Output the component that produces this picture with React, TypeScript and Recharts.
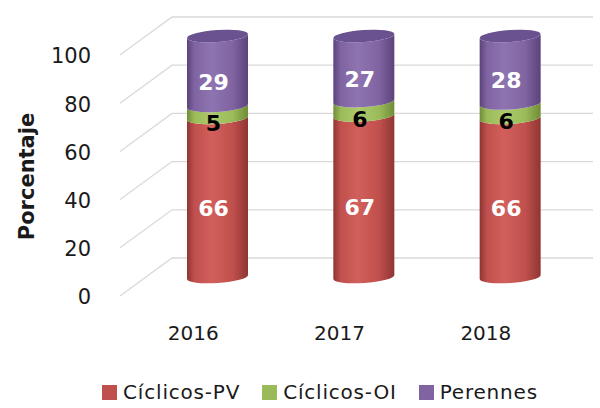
import { BarChart, Bar, XAxis, YAxis, CartesianGrid, Legend, LabelList } from "recharts";

const years = ["2016", "2017", "2018"];
const ciclicosPV = [66, 67, 66];
const ciclicosOI = [5, 6, 6];
const perennes = [29, 27, 28];
const yTicks = [0, 20, 40, 60, 80, 100];

const series = [
  { key: "pv", name: "Cíclicos-PV", color: "#c0504d", dark: "#8f3533", light: "#d25f5b", label: "#ffffff" },
  { key: "oi", name: "Cíclicos-OI", color: "#9bbb59", dark: "#6f8c38", light: "#acc96c", label: "#000000" },
  { key: "per", name: "Perennes", color: "#8064a2", dark: "#5b437a", light: "#8f74b2", label: "#ffffff" },
];

const data = years.map((year, i) => ({
  year,
  pv: ciclicosPV[i],
  oi: ciclicosOI[i],
  per: perennes[i],
}));

const FONT = "'DejaVu Sans', sans-serif";
const TILT = 2;
const RY = 6;

function makeCylinder(gradId: string, capColor?: string) {
  return (props: any) => {
    const { x, y, width: w, height: h } = props;
    if (!w || h == null) return null;
    const rx = w / 2;
    const a = (Math.atan2(-2 * TILT, w) * 180) / Math.PI;
    const d = `M${x},${y + TILT} L${x},${y + h + TILT} A${rx},${RY} ${a} 0 0 ${x + w},${y + h - TILT} L${x + w},${y - TILT} A${rx},${RY} ${a} 0 1 ${x},${y + TILT} Z`;
    return (
      <g>
        <path d={d} fill={`url(#${gradId})`} />
        {capColor && (
          <ellipse cx={x + rx} cy={y} rx={rx} ry={RY} fill={capColor} transform={`rotate(${a} ${x + rx} ${y})`} />
        )}
      </g>
    );
  };
}

function GridLine(props: any) {
  const { x1, y1, x2 } = props;
  return (
    <g key={`g-${y1}`}>
      <path d={`M${x1 - 24},${y1 + 19} L${x1 + 28},${y1 - 19} L${x2 + 10},${y1 - 19}`} stroke="#d9d9d9" strokeWidth={1.3} fill="none" />
    </g>
  );
}

function YTick(props: any) {
  const { x, y, payload } = props;
  return (
    <text x={x - 53} y={y + 20} dy="0.35em" textAnchor="end" fontSize={21} fill="#1a1a1a" fontFamily={FONT}>
      {payload.value}
    </text>
  );
}

function XTick(props: any) {
  const { x, y, payload } = props;
  return (
    <text x={x - 24} y={y + 56} dy="0.35em" textAnchor="middle" fontSize={20} fill="#1a1a1a" fontFamily={FONT}>
      {payload.value}
    </text>
  );
}

function AxisTitle(props: any) {
  const { viewBox } = props;
  const cx = viewBox.x + 27;
  const cy = viewBox.y + viewBox.height / 2 + 20;
  return (
    <text x={cx} y={cy} transform={`rotate(-90 ${cx} ${cy})`} textAnchor="middle" dominantBaseline="central" fontSize={21} fontWeight="bold" fill="#1a1a1a" fontFamily={FONT}>
      Porcentaje
    </text>
  );
}

function makeLabel(color: string) {
  return (props: any) => {
    const { x, y, width, height, value } = props;
    return (
      <text x={x + width / 2 - 4} y={y + height / 2 + 11} dy="0.35em" textAnchor="middle" fontSize={22} fontWeight="bold" fill={color} fontFamily={FONT}>
        {value}
      </text>
    );
  };
}

function LegendBox() {
  return (
    <div style={{ display: "flex", justifyContent: "center", alignItems: "center", gap: 22, fontFamily: FONT, fontSize: 20, color: "#1a1a1a", letterSpacing: 0.8, paddingLeft: 40 }}>
      {series.map((s) => (
        <div key={s.key} style={{ display: "flex", alignItems: "center", gap: 6 }}>
          <span style={{ display: "inline-block", width: 15, height: 15, background: s.color }} />
          <span>{s.name}</span>
        </div>
      ))}
    </div>
  );
}

export default function App() {
  return (
    <div style={{ position: "absolute", left: 0, top: 0, width: 600, height: 408, background: "#fff" }}>
      <BarChart width={600} height={408} data={data} margin={{ top: 36, right: 17, left: 0, bottom: 0 }} barSize={61}>
        <defs>
          {series.map((s) => (
            <linearGradient key={s.key} id={`grad-${s.key}`} x1="0" y1="0" x2="1" y2="0">
              <stop offset="0%" stopColor={s.dark} />
              <stop offset="12%" stopColor={s.color} />
              <stop offset="40%" stopColor={s.light} />
              <stop offset="75%" stopColor={s.color} />
              <stop offset="100%" stopColor={s.dark} />
            </linearGradient>
          ))}
        </defs>
        <CartesianGrid vertical={false} horizontal={GridLine} />
        <XAxis dataKey="year" axisLine={false} tickLine={false} tickSize={0} tickMargin={0} height={131} tick={XTick} />
        <YAxis domain={[0, 100]} ticks={yTicks} axisLine={false} tickLine={false} tickSize={0} tickMargin={0} width={144} tick={YTick} label={<AxisTitle />} />
        <Legend verticalAlign="middle" align="center" layout="horizontal" wrapperStyle={{ top: 380, left: 0, width: 600 }} content={LegendBox} />
        <Bar dataKey="pv" name="Cíclicos-PV" stackId="a" fill="#c0504d" isAnimationActive={false} shape={makeCylinder("grad-pv")}>
          <LabelList dataKey="pv" content={makeLabel("#ffffff")} />
        </Bar>
        <Bar dataKey="oi" name="Cíclicos-OI" stackId="a" fill="#9bbb59" isAnimationActive={false} shape={makeCylinder("grad-oi")}>
          <LabelList dataKey="oi" content={makeLabel("#000000")} />
        </Bar>
        <Bar dataKey="per" name="Perennes" stackId="a" fill="#8064a2" isAnimationActive={false} shape={makeCylinder("grad-per", "#6a5190")}>
          <LabelList dataKey="per" content={makeLabel("#ffffff")} />
        </Bar>
      </BarChart>
    </div>
  );
}
